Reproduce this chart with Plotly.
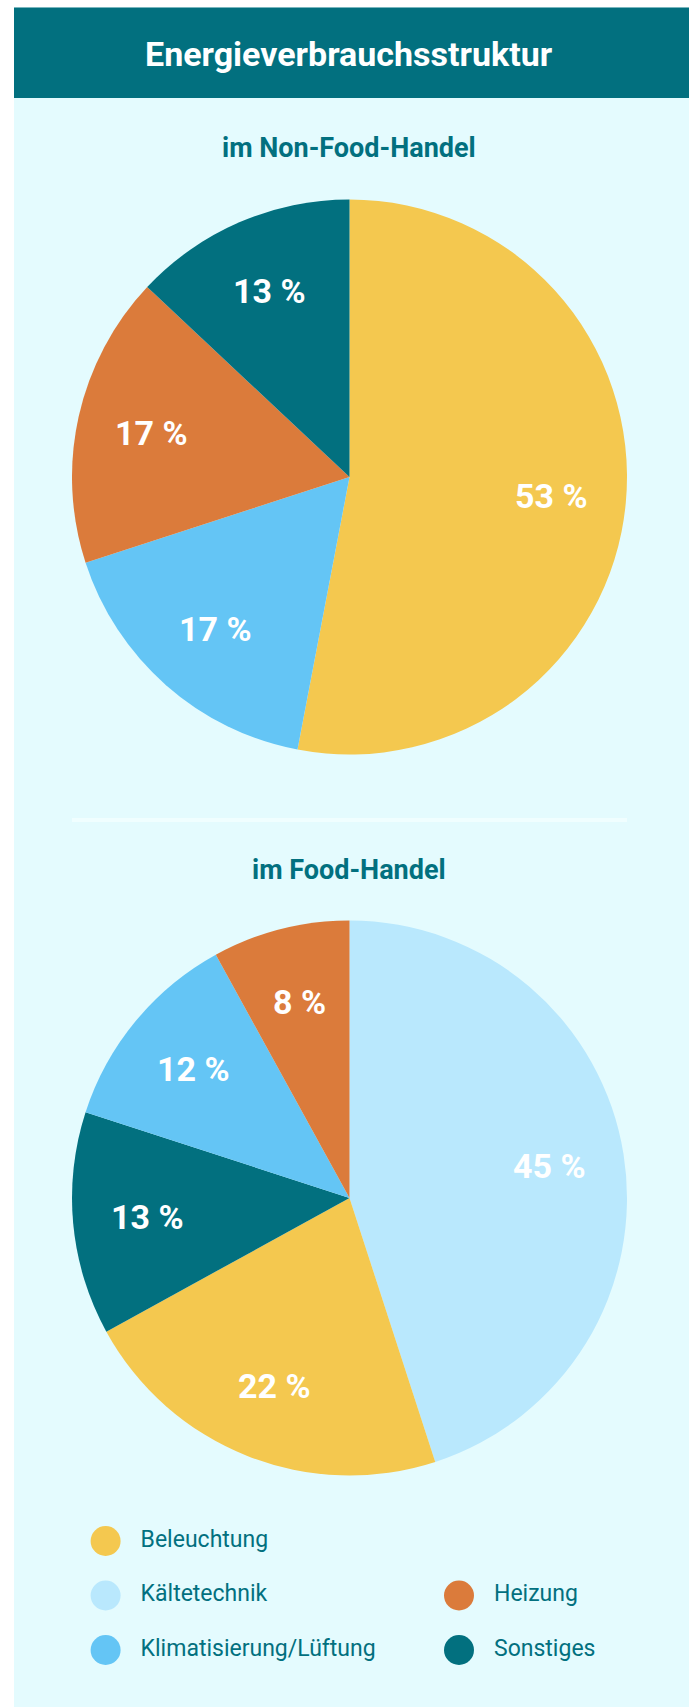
import math
import plotly.graph_objects as go

W, H = 689, 1707

# ---- data ----
title = "Energieverbrauchsstruktur"
sub1 = "im Non-Food-Handel"
sub2 = "im Food-Handel"

nonfood_labels = ["Beleuchtung", "Klimatisierung/Lüftung", "Heizung", "Sonstiges"]
nonfood_values = [53, 17, 17, 13]

food_labels = ["Kältetechnik", "Beleuchtung", "Sonstiges", "Klimatisierung/Lüftung", "Heizung"]
food_values = [45, 22, 13, 12, 8]

legend_labels = ["Beleuchtung", "Kältetechnik", "Heizung", "Klimatisierung/Lüftung", "Sonstiges"]
legend_col = [0, 0, 1, 0, 1]
legend_row = [0, 1, 1, 2, 2]

colors = {
    "Beleuchtung": "#F4C84F",
    "Kältetechnik": "#B9E8FD",
    "Klimatisierung/Lüftung": "#64C5F5",
    "Heizung": "#DB7B3B",
    "Sonstiges": "#02707F",
}

TEAL = "#02707F"
BG = "#E4FBFE"
FONT = "Roboto"

def dom_x(cx, r):
    return [(cx - r) / W, (cx + r) / W]

def dom_y(cy, r):
    return [1 - (cy + r) / H, 1 - (cy - r) / H]

fig = go.Figure()
annotations = []

R = 277.5
CX = 349.5
LABEL_R = 0.73
for labels, values, cy in [(nonfood_labels, nonfood_values, 477), (food_labels, food_values, 1198)]:
    fig.add_trace(go.Pie(
        labels=labels, values=values,
        marker=dict(colors=[colors[l] for l in labels], line=dict(width=0)),
        sort=False, direction="clockwise", rotation=0,
        textinfo="none",
        domain=dict(x=dom_x(CX, R), y=dom_y(cy, R)),
        showlegend=False, hoverinfo="label+value",
    ))
    # value labels placed along each slice's mid-angle
    total = sum(values)
    cum = 0
    for v in values:
        mid = (cum + v / 2) / total * 2 * math.pi
        cum += v
        annotations.append(dict(
            text=f"<b>{v} %</b>",
            x=CX + LABEL_R * R * math.sin(mid), y=cy - LABEL_R * R * math.cos(mid),
            xref="x", yref="y", showarrow=False, xanchor="center", yanchor="middle",
            font=dict(family=FONT, size=34, color="white"),
        ))

# legend drawn as scatter in a pixel-aligned axis
x0, dx = 105.6, 353.4
y0, dy = 1541, 54.5
lx = [x0 + c * dx for c in legend_col]
ly = [y0 + r * dy for r in legend_row]
fig.add_trace(go.Scatter(
    x=lx, y=ly, mode="markers",
    marker=dict(size=30, color=[colors[l] for l in legend_labels], line=dict(width=0)),
    showlegend=False, hoverinfo="skip",
))
fig.add_trace(go.Scatter(
    x=[v + 35 for v in lx], y=ly, mode="text", text=legend_labels,
    textposition="middle right",
    textfont=dict(family=FONT, size=23, color=TEAL),
    showlegend=False, hoverinfo="skip",
))

fig.update_xaxes(range=[0, W], visible=False, fixedrange=True)
fig.update_yaxes(range=[H, 0], visible=False, fixedrange=True)

shapes = [
    dict(type="rect", xref="paper", yref="paper", x0=14 / W, x1=1, y0=0, y1=1 - 7.6 / H,
         fillcolor=BG, line=dict(width=0), layer="below"),
    dict(type="rect", xref="paper", yref="paper", x0=14 / W, x1=1, y0=1 - 98 / H, y1=1 - 7.6 / H,
         fillcolor=TEAL, line=dict(width=0), layer="below"),
    dict(type="line", xref="x", yref="y", x0=72, x1=627, y0=820, y1=820,
         line=dict(color="#F0FEFF", width=4), layer="below"),
]

annotations += [
    dict(text=f"<b>{title}</b>", x=349, y=54, xref="x", yref="y", showarrow=False,
         font=dict(family=FONT, size=34, color="white"), xanchor="center", yanchor="middle"),
    dict(text=f"<b>{sub1}</b>", x=349, y=148, xref="x", yref="y", showarrow=False,
         font=dict(family=FONT, size=27, color=TEAL), xanchor="center", yanchor="middle"),
    dict(text=f"<b>{sub2}</b>", x=349, y=870, xref="x", yref="y", showarrow=False,
         font=dict(family=FONT, size=27, color=TEAL), xanchor="center", yanchor="middle"),
]

fig.update_layout(
    width=W, height=H,
    margin=dict(l=0, r=0, t=0, b=0),
    paper_bgcolor="white", plot_bgcolor="rgba(0,0,0,0)",
    shapes=shapes, annotations=annotations,
    font=dict(family=FONT),
)

fig.write_html("out.html", config={"displayModeBar": False})
